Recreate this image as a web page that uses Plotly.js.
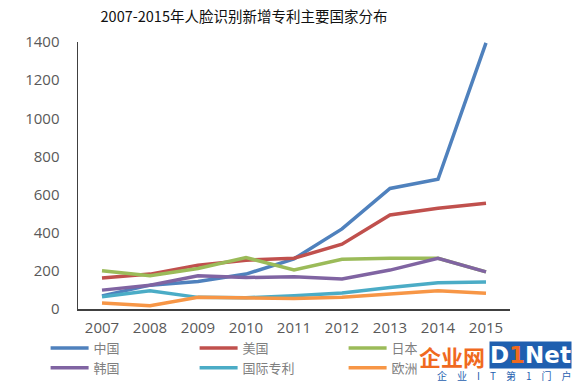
<!DOCTYPE html>
<html>
<head>
<meta charset="utf-8">
<script src="https://cdn.plot.ly/plotly-3.0.1.min.js"></script>
<style>html,body{margin:0;padding:0;background:#fff;}#chart{width:573px;height:383px;}</style>
</head>
<body>
<div id="chart"></div>
<script>
const years = ['2007','2008','2009','2010','2011','2012','2013','2014','2015'];
const seriesNames = ['中国','美国','日本','韩国','国际专利','欧洲'];
const china = [69, 125, 144, 183, 263, 420, 632, 680, 1395];
const usa = [162, 183, 230, 256, 266, 340, 493, 528, 554];
const japan = [200, 174, 212, 270, 205, 261, 266, 266, 195];
const korea = [99, 125, 174, 165, 169, 157, 204, 266, 195];
const intl = [64, 96, 61, 59, 69, 84, 113, 137, 141];
const europe = [31, 17, 61, 57, 55, 61, 78, 96, 82];
const colors = ['#4F81BD','#C0504D','#9BBB59','#8064A2','#4BACC6','#F79646'];
const values = [china, usa, japan, korea, intl, europe];
const yTicks = [0,200,400,600,800,1000,1200,1400];

const traces = values.map((v, i) => ({
  type: 'scatter', mode: 'lines', x: years, y: v, name: seriesNames[i],
  line: {color: colors[i], width: 3.5}, hoverinfo: 'x+y+name'
}));

const py = (p) => (309 - p) / 267;   // pixel row -> paper y
const px = (p) => (p - 78) / 432;    // pixel column -> paper x

const layout = {
  width: 573, height: 383,
  margin: {l: 78, r: 63, t: 42, b: 74, autoexpand: false},
  paper_bgcolor: '#fff', plot_bgcolor: '#fff',
  title: {text: '2007-2015年人脸识别新增专利主要国家分布', font: {family: 'Noto Sans CJK SC', size: 14.5, color: '#111'},
          x: 244/573, xref: 'container', xanchor: 'center', y: 1 - 17/383, yref: 'container', yanchor: 'middle'},
  xaxis: {type: 'category', range: [-0.5, 8.5], showgrid: false, zeroline: false,
          showline: true, linecolor: '#404040', linewidth: 1.5, ticks: '',
          tickfont: {family: 'Open Sans', size: 15, color: '#595959'}, ticklabelstandoff: 4, fixedrange: true},
  yaxis: {range: [0, 1400], tickvals: yTicks, showgrid: false, zeroline: false,
          showline: true, linecolor: '#404040', linewidth: 1.5, ticks: '',
          tickfont: {family: 'Open Sans', size: 15, color: '#595959'}, ticklabelstandoff: 14, fixedrange: true},
  showlegend: true,
  legend: {orientation: 'h', x: -0.075, xanchor: 'left', y: py(333), yanchor: 'top',
           entrywidth: 96, entrywidthmode: 'pixels', tracegroupgap: 0,
           font: {family: 'Noto Sans CJK SC', size: 13, color: '#7f7f7f'}, itemwidth: 38, traceorder: 'normal'},
  annotations: [
    {text: '<b>企业网</b>', xref: 'paper', yref: 'paper', x: px(487), y: py(356), xanchor: 'right', yanchor: 'middle',
     showarrow: false, font: {family: 'Noto Sans CJK SC', size: 22, color: '#F06A1F'}},
    {text: '<b>D<span style="color:#F06A1F">1</span>Net</b>', xref: 'paper', yref: 'paper', x: px(489), y: py(355), xanchor: 'left', yanchor: 'middle',
     showarrow: false, bgcolor: '#1F5FAF', borderpad: 0, font: {family: 'DejaVu Sans', size: 23, color: '#ffffff'}},
    {text: '企\u2003业\u2003I\u2003T\u2003第\u20031\u2003门\u2003户', xref: 'paper', yref: 'paper', x: px(572), y: py(375), xanchor: 'right', yanchor: 'middle',
     showarrow: false, borderpad: 0, font: {family: 'Noto Sans CJK SC', size: 10, color: '#1F5FAF'}}
  ]
};

Plotly.newPlot('chart', traces, layout, {displayModeBar: false, staticPlot: true});
</script>
</body>
</html>
